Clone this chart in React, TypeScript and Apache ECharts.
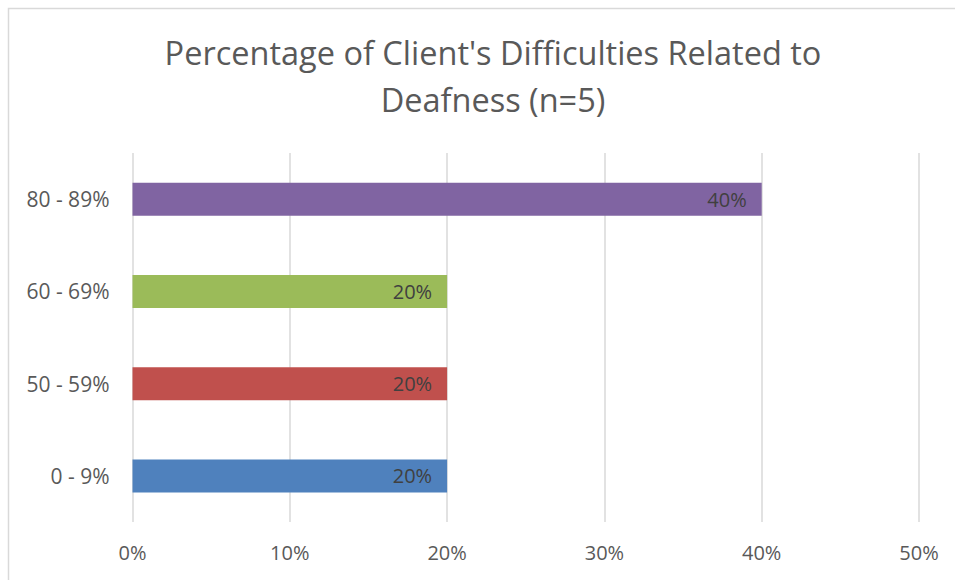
import React, { useEffect, useRef } from "react";
import * as echarts from "echarts";

const categories = ["0 - 9%", "50 - 59%", "60 - 69%", "80 - 89%"];
const values = [20, 20, 20, 40];
const barColors = ["#4F81BD", "#C0504D", "#9BBB59", "#8064A2"];
const titleLines = ["Percentage of Client's Difficulties Related to", "Deafness (n=5)"];

export default function App() {
  const ref = useRef<HTMLDivElement>(null);
  useEffect(() => {
    document.body.style.margin = "0";
    const chart = echarts.init(ref.current!, null, { renderer: "svg" });
    const font = "'Open Sans', sans-serif";
    chart.setOption({
      animation: false,
      backgroundColor: "#ffffff",
      graphic: [
        {
          type: "rect",
          shape: { x: 8.5, y: 8.5, width: 1000, height: 1000 },
          style: { fill: "none", stroke: "#d9d9d9", lineWidth: 1.5 },
          silent: true,
        },
      ],
      title: {
        text: titleLines.join("\n"),
        left: 488,
        top: 24,
        textAlign: "center",
        textStyle: {
          fontFamily: font,
          fontSize: 32.5,
          fontWeight: "normal",
          color: "#595959",
          lineHeight: 47,
        },
      },
      grid: { left: 132.5, right: 36, top: 153, bottom: 58, containLabel: false },
      xAxis: {
        type: "value",
        min: 0,
        max: 50,
        interval: 10,
        axisLine: { show: false },
        axisTick: { show: false },
        splitLine: { show: true, lineStyle: { color: "#d9d9d9", width: 1.5 } },
        axisLabel: {
          formatter: "{value}%",
          fontFamily: font,
          fontSize: 20,
          color: "#595959",
          margin: 20,
        },
      },
      yAxis: {
        type: "category",
        data: categories,
        axisLine: { show: false },
        axisTick: { show: false },
        axisLabel: {
          fontFamily: font,
          fontSize: 21,
          color: "#595959",
          margin: 23,
        },
      },
      series: [
        {
          type: "bar",
          data: values.map((v, i) => ({ value: v, itemStyle: { color: barColors[i] } })),
          barWidth: 33,
          label: {
            show: true,
            position: "insideRight",
            distance: 15,
            formatter: "{c}%",
            fontFamily: font,
            fontSize: 20,
            color: "#404040",
          },
        },
      ],
    });
    return () => chart.dispose();
  }, []);
  return <div ref={ref} style={{ width: 955, height: 580 }} />;
}
